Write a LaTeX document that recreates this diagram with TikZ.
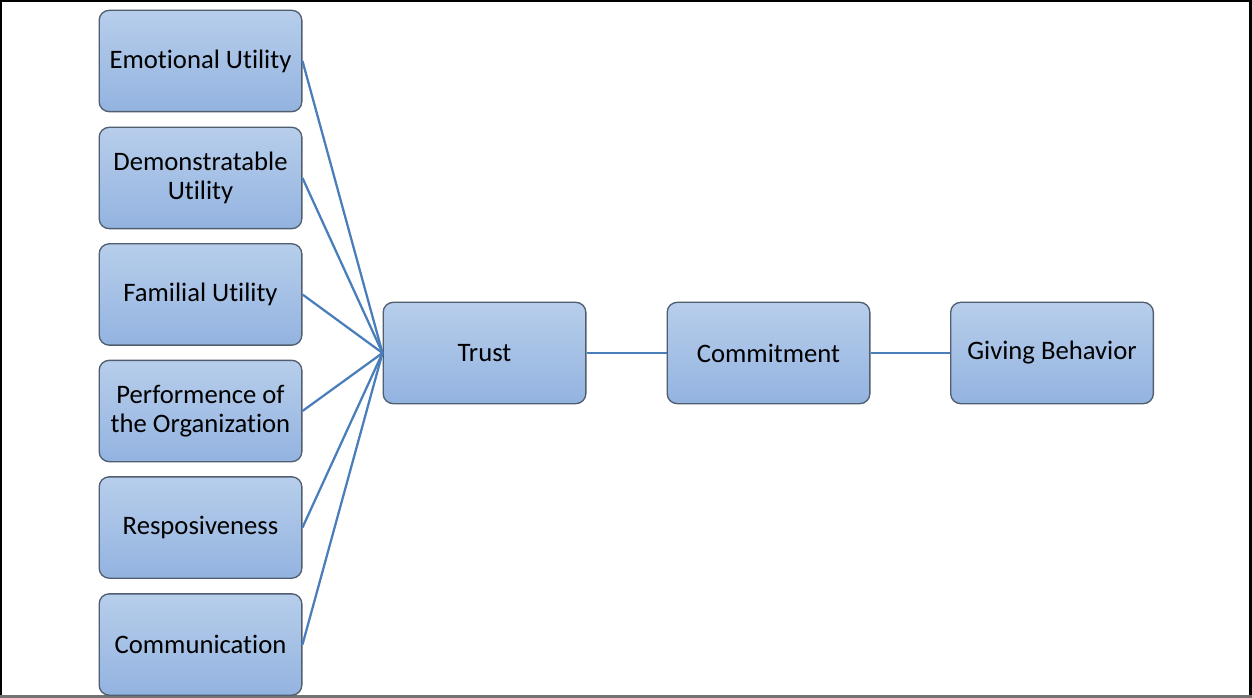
\documentclass[tikz,border=0pt]{standalone}
\usepackage{fontspec}
\setmainfont{Carlito}[Ligatures=NoCommon]
\usetikzlibrary{positioning}
\definecolor{BoxTop}{HTML}{B7CEEB}
\definecolor{BoxBottom}{HTML}{93B3E0}
\definecolor{BoxEdge}{HTML}{505E70}
\definecolor{LinkBlue}{HTML}{4A7EBB}

\begin{document}
\begin{tikzpicture}[
  x=0.75pt, y=-0.75pt,
  box/.style  = {draw=BoxEdge, line width=1pt, rounded corners=7.5pt,
                 top color=BoxTop, bottom color=BoxBottom,
                 minimum width=152pt, minimum height=76pt, inner sep=2pt,
                 align=center, font=\fontsize{20}{22}\selectfont},
  link/.style = {draw=LinkBlue, line width=1.7pt}
]

%% ---- frame -------------------------------------------------------------
\useasboundingbox (0,0) rectangle (1252,698);
\draw[line width=1.6pt, black] (1,697) -- (1,1) -- (1250.5,1) -- (1250.5,697);
\draw[line width=1.6pt, black!55] (0,696.5) -- (1252,696.5);

%% ---- the six antecedents -------------------------------------------------
\node[box] (emo)  at (200.5,61)    {Emotional Utility};
\node[box] (demo) at (200.5,178)   {Demonstratable\\Utility};
\node[box] (fam)  at (200.5,294.5) {Familial Utility};
\node[box] (perf) at (200.5,411)   {Performence of\\the Organization};
\node[box] (resp) at (200.5,527.5) {Resposiveness};
\node[box] (comm) at (200.5,644.5) {Communication};

%% ---- the chain -------------------------------------------------------------
\node[box] (trust)  at (484.5,353) {Trust};
\node[box] (commit) at (768.5,353) {Commitment};
\node[box] (giving) at (1052,353)  {Giving Behavior};

\foreach \src in {emo,demo,fam,perf,resp,comm}
  \draw[link] (\src.east) -- (trust.west);
\draw[link] (trust) -- (commit);
\draw[link] (commit) -- (giving);

\end{tikzpicture}
\end{document}
